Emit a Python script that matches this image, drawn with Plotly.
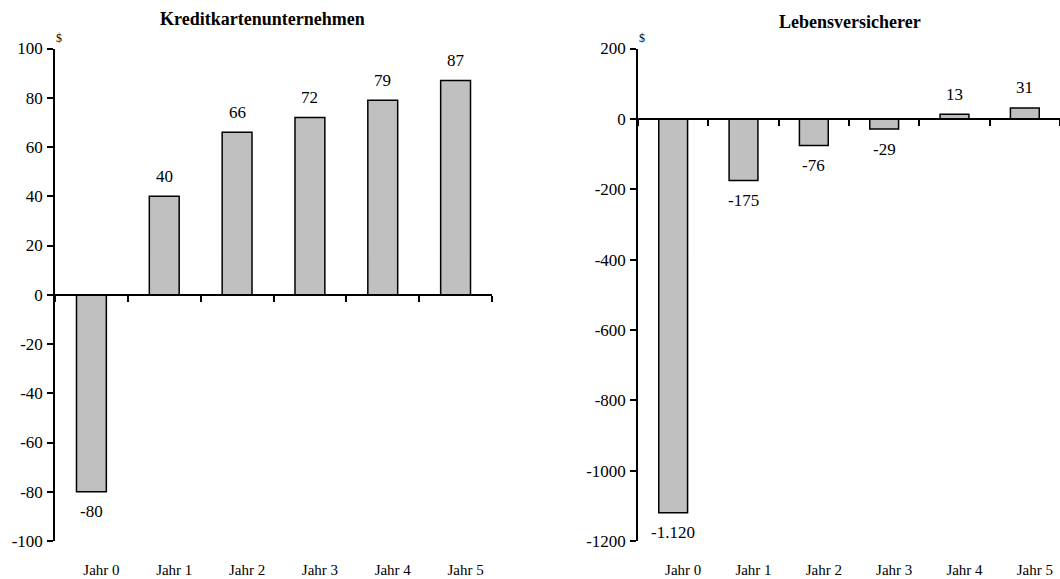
import plotly.graph_objects as go

# Cash flows per year in $ for two business models
years = ["Jahr 0", "Jahr 1", "Jahr 2", "Jahr 3", "Jahr 4", "Jahr 5"]
kredit_values = [-80, 40, 66, 72, 79, 87]
leben_values = [-1120, -175, -76, -29, 13, 31]

kredit_title = "Kreditkartenunternehmen"
leben_title = "Lebensversicherer"

kredit_ticks = [-100, -80, -60, -40, -20, 0, 20, 40, 60, 80, 100]
leben_ticks = [-1200, -1000, -800, -600, -400, -200, 0, 200]

SERIF = "Liberation Serif"
BAR_FILL = "#c0c0c0"
W, H = 1060, 579
Y_DOMAIN = [1 - 541 / H, 1 - 48.5 / H]
LEFT_DOMAIN = [55 / W, 492 / W]
RIGHT_DOMAIN = [638 / W, 1.0]
TITLE_POS = [(262.5 / W, 1 - 18.5 / H), (850 / W, 1 - 22 / H)]


def de_format(v):
    return f"{v:,}".replace(",", ".")


def zero_position(rng):
    frac = (0 - rng[0]) / (rng[1] - rng[0])
    return Y_DOMAIN[0] + frac * (Y_DOMAIN[1] - Y_DOMAIN[0])


fig = go.Figure()

panels = [
    ("x", "y", "x3", kredit_values, kredit_ticks, LEFT_DOMAIN, kredit_title, TITLE_POS[0]),
    ("x2", "y2", "x4", leben_values, leben_ticks, RIGHT_DOMAIN, leben_title, TITLE_POS[1]),
]

annotations = []
for xa, ya, xz, values, ticks, dom, title, tpos in panels:
    fig.add_trace(go.Bar(
        x=years, y=values, xaxis=xa, yaxis=ya,
        marker=dict(color=BAR_FILL, line=dict(color="black", width=1.5)),
        width=0.41, showlegend=False, hoverinfo="skip",
    ))
    # invisible trace carrying the zero-line category axis
    fig.add_trace(go.Scatter(
        x=years, y=[None] * len(years), xaxis=xz, yaxis=ya,
        mode="lines", showlegend=False, hoverinfo="skip",
    ))
    for cat, v in zip(years, values):
        annotations.append(dict(
            x=cat, y=v, xref=xa, yref=ya, text=de_format(v),
            showarrow=False, yanchor="middle",
            yshift=20 if v >= 0 else -20,
            font=dict(family=SERIF, size=17, color="black"),
        ))
    annotations.append(dict(
        x=tpos[0], y=tpos[1], xref="paper", yref="paper",
        xanchor="center", yanchor="middle",
        text=f"<b>{title}</b>", showarrow=False,
        font=dict(family=SERIF, size=18, color="black"),
    ))
    annotations.append(dict(
        x=dom[0], y=1 - 38 / H, xref="paper", yref="paper",
        xanchor="center", yanchor="middle", xshift=4,
        text="$", showarrow=False,
        font=dict(family=SERIF, size=12, color="black"),
    ))

axis_font = dict(family=SERIF, size=17, color="black")
cat_font = dict(family=SERIF, size=15, color="black")

layout = dict(
    width=W, height=H,
    margin=dict(l=0, r=0, t=0, b=0, autoexpand=False),
    paper_bgcolor="white", plot_bgcolor="white",
    annotations=annotations,
)

for xa, ya, xz, values, ticks, dom, title, tpos in panels:
    xkey = "xaxis" if xa == "x" else "xaxis" + xa[1:]
    ykey = "yaxis" if ya == "y" else "yaxis" + ya[1:]
    zkey = "xaxis" + xz[1:]
    rng = [min(ticks), max(ticks)]
    layout[xkey] = dict(
        domain=dom, anchor=ya, type="category", range=[-0.5, 5.5],
        showline=False, showgrid=False, zeroline=False, ticks="",
        tickfont=cat_font, ticklabelstandoff=18, ticklabelshift=10,
        automargin=False,
    )
    layout[zkey] = dict(
        overlaying=xa, anchor="free", position=zero_position(rng),
        type="category", range=[-0.5, 5.5], domain=dom,
        showline=True, linecolor="black", linewidth=1.5,
        ticks="outside", tickson="boundaries", ticklen=6,
        tickwidth=1.5, tickcolor="black",
        showticklabels=False, showgrid=False, zeroline=False,
        automargin=False,
    )
    layout[ykey] = dict(
        domain=Y_DOMAIN, anchor=xa, range=rng,
        tickmode="array", tickvals=ticks, ticktext=[str(t) for t in ticks],
        showline=True, linecolor="black", linewidth=1.5,
        ticks="outside", ticklen=6, tickwidth=1.5, tickcolor="black",
        showgrid=False, zeroline=False, tickfont=axis_font,
        ticklabelstandoff=1, automargin=False,
    )

fig.update_layout(**layout)
fig.write_html("out.html")
